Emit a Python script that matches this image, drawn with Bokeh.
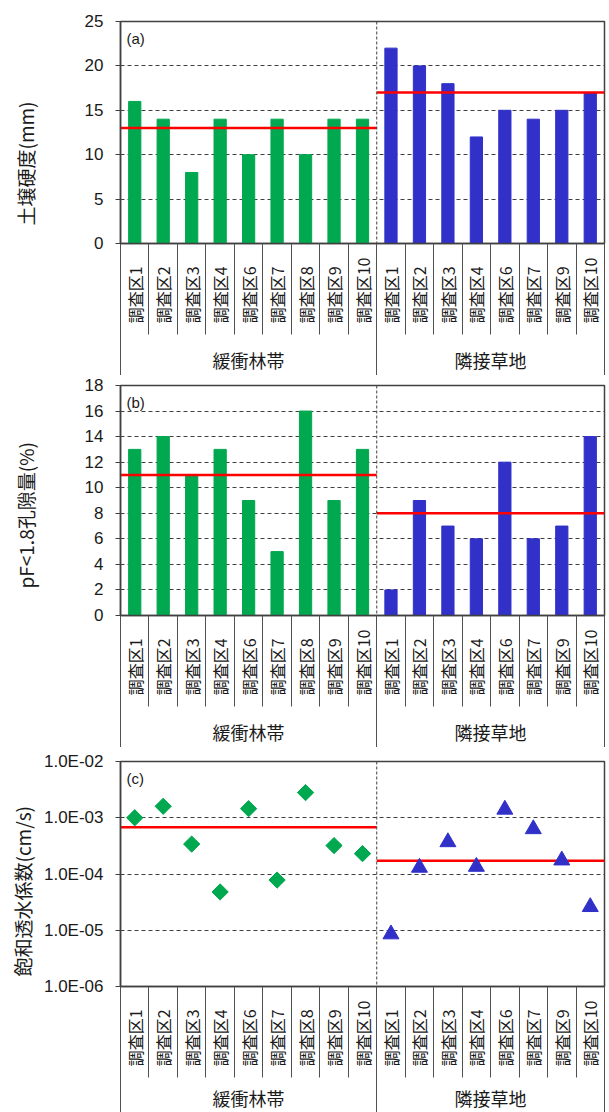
import math
from bokeh.plotting import figure
from bokeh.layouts import column
from bokeh.models import (Range1d, Label, Span, FixedTicker, LinearAxis,
                          CustomJSTickFormatter)
from bokeh.embed import file_html
from bokeh.resources import INLINE

# ---------------- data ----------------
groups = ["緩衝林帯", "隣接草地"]
sites_buffer = ["調査区1", "調査区2", "調査区3", "調査区4", "調査区6",
                "調査区7", "調査区8", "調査区9", "調査区10"]
sites_grass = ["調査区1", "調査区2", "調査区3", "調査区4", "調査区6",
               "調査区7", "調査区9", "調査区10"]

hard_buffer = [16, 14, 8, 14, 10, 14, 10, 14, 14]
hard_grass = [22, 20, 18, 12, 15, 14, 15, 17]
hard_mean = [13, 17]

pore_buffer = [13, 14, 11, 13, 9, 5, 16, 9, 13]
pore_grass = [2, 9, 7, 6, 12, 6, 7, 14]
pore_mean = [11, 8]

ks_buffer = [1.0e-3, 1.6e-3, 3.4e-4, 4.8e-5, 1.45e-3, 7.8e-5, 2.8e-3, 3.2e-4, 2.3e-4]
ks_grass = [8.5e-6, 1.3e-4, 3.7e-4, 1.35e-4, 1.4e-3, 6.3e-4, 1.75e-4, 2.6e-5]
ks_mean = [6.8e-4, 1.72e-4]

hard_ticks = [0, 5, 10, 15, 20, 25]
pore_ticks = [0, 2, 4, 6, 8, 10, 12, 14, 16, 18]
ks_ticks = [1e-6, 1e-5, 1e-4, 1e-3, 1e-2]

panel_tags = ["(a)", "(b)", "(c)"]
y_titles = ["土壌硬度(mm)", "pF<1.8孔隙量(%)", "飽和透水係数(cm/s)"]

# ---------------- style ----------------
GREEN = "#00a84f"
BLUE = "#3131c9"
RED = "#ff0000"
DARK = "#404040"
SEP = "#505050"
TXT = "#1a1a1a"
JP = "Noto Sans CJK JP"
LAT = "Liberation Sans"
LEFT, RIGHT, FRAME_W = 120, 5, 484

n1, n2 = len(sites_buffer), len(sites_grass)
N = n1 + n2
xb = [i + 0.5 for i in range(n1)]
xg = [n1 + i + 0.5 for i in range(n2)]
site_labels = [s.ljust(5, "\u2007") for s in sites_buffer + sites_grass]
group_centers = [n1 / 2, n1 + n2 / 2]

SEP1 = 91      # length of the site separators below the plot
SEP2 = 60      # length of the group separators below the site labels

LIN_FMT = """
    const s = String(tick);
    return s.padStart(6, '\\u2007');
"""
LOG_FMT = """
    const e = Math.round(Math.log10(tick));
    const m = tick / Math.pow(10, e);
    const s = String(Math.abs(e)).padStart(2, '0');
    return m.toFixed(1) + 'E' + (e < 0 ? '-' : '+') + s;
"""


def make_panel(frame_h, top, bottom, y_range, ticks, tag, title,
               title_offset, group_gap=20, log=False):
    p = figure(frame_width=FRAME_W, frame_height=frame_h,
               title=title, title_location="left",
               x_range=Range1d(0, N), y_range=y_range,
               y_axis_type="log" if log else "linear",
               output_backend="svg", toolbar_location=None,
               min_border_left=LEFT, min_border_right=RIGHT,
               min_border_top=top, min_border_bottom=bottom,
               x_axis_location=None)
    p.outline_line_color = DARK
    p.outline_line_width = 1.5
    p.xgrid.visible = False

    # y title
    p.title.align = "left"
    p.title.vertical_align = "bottom"
    p.title.offset = title_offset
    p.title.standoff = 10
    p.title.text_font = JP
    p.title.text_font_size = "19px"
    p.title.text_font_style = "normal"
    p.title.text_color = TXT

    # y axis
    ax = p.yaxis[0]
    ax.ticker = FixedTicker(ticks=ticks)
    ax.formatter = CustomJSTickFormatter(code=LOG_FMT if log else LIN_FMT)
    ax.axis_line_color = DARK
    ax.axis_line_width = 1.5
    ax.major_tick_line_color = DARK
    ax.major_tick_out = 5
    ax.major_tick_in = 0
    ax.minor_tick_line_color = None
    ax.major_label_standoff = 12
    ax.major_label_text_font = LAT
    ax.major_label_text_font_size = "17px"
    ax.major_label_text_color = TXT
    p.ygrid.ticker = FixedTicker(ticks=ticks)
    p.ygrid.grid_line_color = DARK
    p.ygrid.grid_line_dash = "4 3"
    p.ygrid.grid_line_width = 1

    # group divider inside plot
    p.add_layout(Span(location=n1, dimension="height", line_color=DARK,
                      line_dash="3 2", line_width=1))
    # panel tag
    p.add_layout(Label(x=0, y=y_range.end, x_offset=6, y_offset=-17,
                       text=tag, text_baseline="middle", text_align="left",
                       text_font=LAT, text_font_size="15px", text_color=TXT))

    # site labels axis (minor ticks act as the box separators)
    ax1 = LinearAxis(
        ticker=FixedTicker(ticks=xb + xg, minor_ticks=list(range(N + 1))),
        formatter=CustomJSTickFormatter(args=dict(labels=site_labels),
                                        code="return labels[Math.floor(tick)];"))
    ax1.axis_line_color = DARK
    ax1.axis_line_width = 1.5
    ax1.major_tick_line_color = None
    ax1.major_tick_out = 0
    ax1.major_tick_in = 0
    ax1.minor_tick_line_color = SEP
    ax1.minor_tick_line_width = 1
    ax1.minor_tick_out = SEP1
    ax1.minor_tick_in = 0
    ax1.major_label_orientation = math.pi / 2
    ax1.major_label_standoff = 14 - SEP1
    ax1.major_label_text_font = JP
    ax1.major_label_text_font_size = "16px"
    ax1.major_label_text_color = TXT
    p.add_layout(ax1, "below")

    # group labels axis
    ax2 = LinearAxis(
        ticker=FixedTicker(ticks=group_centers, minor_ticks=[0, n1, N]),
        formatter=CustomJSTickFormatter(args=dict(labels=groups, n1=n1),
                                        code="return tick < n1 ? labels[0] : labels[1];"))
    ax2.axis_line_color = None
    ax2.major_tick_line_color = None
    ax2.major_tick_out = 0
    ax2.major_tick_in = 0
    ax2.minor_tick_line_color = SEP
    ax2.minor_tick_line_width = 1
    ax2.minor_tick_out = SEP2
    ax2.minor_tick_in = 0
    ax2.major_label_standoff = group_gap - SEP2
    ax2.major_label_text_font = JP
    ax2.major_label_text_font_size = "18px"
    ax2.major_label_text_color = TXT
    p.add_layout(ax2, "below")
    return p


# (a) soil hardness
pa = make_panel(222, 21, 126, Range1d(0, 25), hard_ticks, panel_tags[0],
                y_titles[0], 18)
pa.vbar(x=xb, top=hard_buffer, width=0.43, bottom=0, color=GREEN)
pa.vbar(x=xg, top=hard_grass, width=0.43, bottom=0, color=BLUE)
pa.segment(x0=[0, n1], x1=[n1, N], y0=hard_mean, y1=hard_mean,
           line_color=RED, line_width=2.5)

# (b) macro-porosity
pb = make_panel(230, 10, 126, Range1d(0, 18), pore_ticks, panel_tags[1],
                y_titles[1], 27)
pb.vbar(x=xb, top=pore_buffer, width=0.43, bottom=0, color=GREEN)
pb.vbar(x=xg, top=pore_grass, width=0.43, bottom=0, color=BLUE)
pb.segment(x0=[0, n1], x1=[n1, N], y0=pore_mean, y1=pore_mean,
           line_color=RED, line_width=2.5)

# (c) saturated hydraulic conductivity
pc = make_panel(225, 14, 122, Range1d(1e-6, 1e-2), ks_ticks, panel_tags[2],
                y_titles[2], 10, group_gap=15, log=True)
pc.segment(x0=[0, n1], x1=[n1, N], y0=ks_mean, y1=ks_mean,
           line_color=RED, line_width=2.5)
pc.scatter(x=xb, y=ks_buffer, marker="square", angle=math.pi / 4, size=11.5,
           color=GREEN)
pc.scatter(x=xg, y=ks_grass, marker="triangle", size=16, color=BLUE)

layout = column(pa, pb, pc, spacing=0)
open("out.html", "w").write(file_html(layout, INLINE))
